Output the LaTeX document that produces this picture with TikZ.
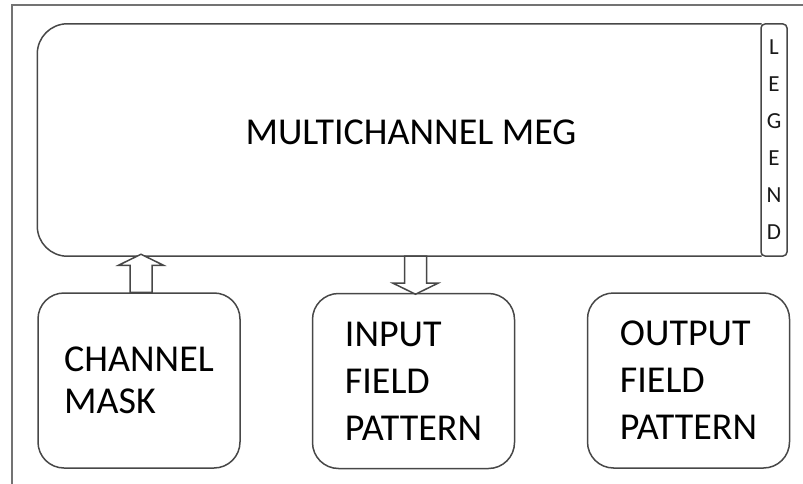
\documentclass[tikz,border=0pt]{standalone}
\usepackage{fontspec}
\setmainfont{Carlito}
\begin{document}
\begin{tikzpicture}[x=1pt,y=-1pt,
  frameline/.style={draw=black!55,line width=2pt},
  boxline/.style={draw=black!72,line width=1.5pt},
  bigtext/.style={font=\fontsize{38}{47}\selectfont},
  bottombox/.style={boxline,rounded corners=26pt,minimum width=202pt,minimum height=175pt,
    inner sep=0pt,align=left,text=black},
  legendbox/.style={boxline,rounded corners=4pt,minimum width=26pt,minimum height=232pt,
    inner sep=0pt,align=center,font=\fontsize{23}{37}\selectfont,text=black!90},
  blockarrow/.pic={\draw[boxline,fill=white] (-11,0) -- (-11,27) -- (-22.5,27) -- (0,38)
    -- (22.5,27) -- (11,27) -- (11,0) -- cycle;}
]
\useasboundingbox (0,0) rectangle (803,484);

% outer frame (top and left edges)
\draw[frameline] (12,484) -- (12,5) -- (803,5);

% main MEG panel: rounded on the left, closed by the legend strip on the right
\node[minimum width=724pt,minimum height=232pt,inner sep=0pt] (meg) at (399.5,140) {};
\draw[boxline,rounded corners=30pt] (meg.north east) -- (meg.north west)
  -- (meg.south west) -- (meg.south east);
\node[bigtext,text=black] (megtitle) at (411,132) {MULTICHANNEL MEG};

% legend strip
\node[legendbox] (legend) at (774,140) {L\\E\\G\\E\\N\\D};

% lower boxes
\node[bottombox,font=\fontsize{38}{42}\selectfont] (mask) at (139,380.5) {CHANNEL\\MASK};
\node[bottombox,bigtext] (input) at (413.5,381) {INPUT\\FIELD\\PATTERN};
\node[bottombox,bigtext] (output) at (688.5,380.5) {OUTPUT\\FIELD\\PATTERN};

% block arrows between the panel and the lower boxes
\pic[rotate=180] at ([xshift=2pt]mask.north) {blockarrow};
\pic at ([xshift=2pt]input.north |- meg.south) {blockarrow};
\end{tikzpicture}
\end{document}
